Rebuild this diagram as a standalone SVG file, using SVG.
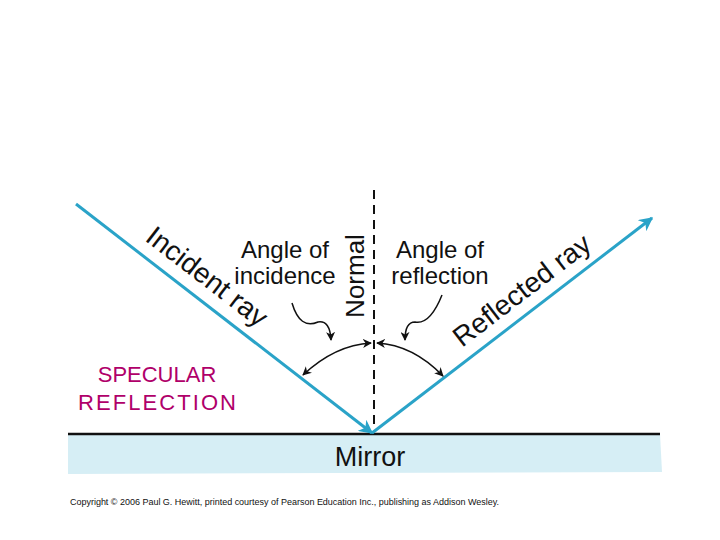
<svg xmlns="http://www.w3.org/2000/svg" width="720" height="540" viewBox="0 0 720 540">
<style>
.ray{stroke:#2aa3c8;stroke-width:3;fill:none}
.blk{stroke:#111;stroke-width:1.5;fill:none}
.t{font-family:"Liberation Sans",Arial,sans-serif;fill:#111}
</style>
<defs>
<marker id="ba" viewBox="0 0 10 10" refX="9" refY="5" markerWidth="14" markerHeight="14" markerUnits="userSpaceOnUse" orient="auto"><path d="M0,0 L10,5 L0,10 L3,5 Z" fill="#2aa3c8"/></marker>
<marker id="ka" viewBox="0 0 10 10" refX="9" refY="5" markerWidth="9" markerHeight="9" markerUnits="userSpaceOnUse" orient="auto-start-reverse"><path d="M0,0 L10,5 L0,10 L3,5 Z" fill="#111"/></marker>
</defs>
<rect width="720" height="540" fill="#fff"/>
<g id="mirror">
<path d="M68,434 L660,434 L662,472 L68,474 Z" fill="#d6eef5"/>
<line x1="68" y1="434" x2="660" y2="434" stroke="#111" stroke-width="2.5"/>
<text class="t" x="370" y="466" font-size="27" text-anchor="middle">Mirror</text>
</g>
<g id="normal">
<line x1="374" y1="190" x2="374" y2="430" stroke="#111" stroke-width="2" stroke-dasharray="9,6"/>
<text class="t" transform="translate(364,276) rotate(-90)" font-size="26" text-anchor="middle">Normal</text>
</g>
<g id="connectors">
<path class="ray" d="M76,204 L372,433" marker-end="url(#ba)"/>
<path class="ray" d="M372,433 L652,218" marker-end="url(#ba)"/>
<path class="blk" d="M371,343 Q335,345 303,375" marker-start="url(#ka)" marker-end="url(#ka)"/>
<path class="blk" d="M377,343 Q413,345 443,376" marker-start="url(#ka)" marker-end="url(#ka)"/>
<path class="blk" d="M292,303 Q300,330 318,322 Q330,320 331,340" marker-end="url(#ka)"/>
<path class="blk" d="M442,295 Q430,325 415,322 Q405,322 405,340" marker-end="url(#ka)"/>
</g>
<g id="incident">
<text class="t" transform="translate(144,240) rotate(37.6)" font-size="28">Incident ray</text>
</g>
<g id="reflected">
<text class="t" transform="translate(462,348) rotate(-37.4)" font-size="28">Reflected ray</text>
</g>
<g id="angles">
<text class="t" x="285" y="258" font-size="24" text-anchor="middle">Angle of</text>
<text class="t" x="285" y="284" font-size="24" text-anchor="middle">incidence</text>
<text class="t" x="440" y="258" font-size="24" text-anchor="middle">Angle of</text>
<text class="t" x="440" y="284" font-size="24" text-anchor="middle">reflection</text>
</g>
<g id="label">
<text x="157" y="382" font-family="Liberation Sans,Arial,sans-serif" font-size="22" fill="#b0006a" text-anchor="middle">SPECULAR</text>
<text x="157" y="410" font-family="Liberation Sans,Arial,sans-serif" font-size="22" fill="#b0006a" text-anchor="middle" textLength="158">REFLECTION</text>
</g>
<text class="t" x="70" y="505" font-size="9" textLength="429">Copyright © 2006 Paul G. Hewitt, printed courtesy of Pearson Education Inc., publishing as Addison Wesley.</text>
</svg>
